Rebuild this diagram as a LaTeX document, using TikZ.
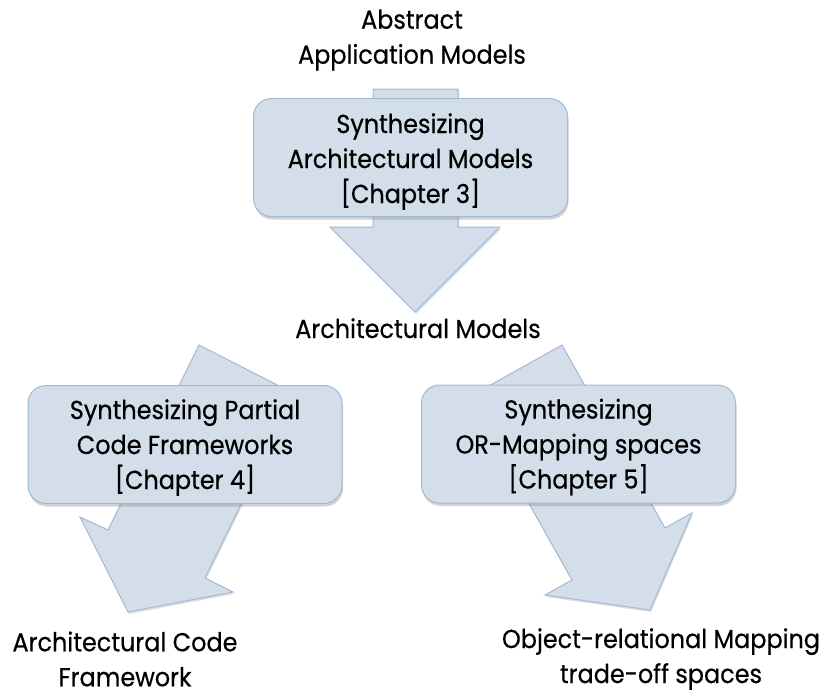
\documentclass[tikz,border=0pt]{standalone}
\usepackage{fontspec}
\setmainfont[FakeStretch=0.92,FakeBold=0.5]{Poppins}
\usetikzlibrary{shadows}
\definecolor{boxfill}{RGB}{211,222,234}
\definecolor{boxline}{RGB}{160,186,212}
\begin{document}
\begin{tikzpicture}[x=1pt,y=-1pt,
  txt/.style={align=center, inner sep=0pt, font=\fontsize{26}{35}\selectfont},
  boxst/.style={draw=boxline, fill=boxfill, rounded corners=18pt, line width=1pt,
    minimum width=314pt, minimum height=118pt, inner sep=0pt,
    drop shadow={opacity=0.35, shadow xshift=1pt, shadow yshift=-3pt}},
  arrowst/.style={draw=boxline, fill=boxfill, line width=1pt, line join=miter,
    drop shadow={opacity=0.25, shadow xshift=1pt, shadow yshift=-2pt}}]
\useasboundingbox (0,0) rectangle (830,696);
% block arrows
\draw[arrowst] (373,89) -- (458,89) -- (458,227) -- (500,227) -- (415,312) -- (330,227) -- (373,227) -- cycle;
\draw[arrowst] (199,345) -- (295,394) -- (205,578) -- (233,592) -- (128,612) -- (80,517) -- (108,530) -- cycle;
\draw[arrowst] (562,345) -- (665,528) -- (692,513) -- (650,610) -- (545,595) -- (572,580) -- (469,397) -- cycle;
% boxes
\node[boxst] (b3) at (410.5,157.5) {};
\node[boxst] (b4) at (185,444.5) {};
\node[boxst] (b5) at (578.5,444) {};
\node[txt, yshift=-4pt] (t3) at (b3.center) {Synthesizing\\Architectural Models\\{}[Chapter 3]};
\node[txt, yshift=-3pt] (t4) at (b4.center) {Synthesizing Partial\\Code Frameworks\\{}[Chapter 4]};
\node[txt, yshift=-3pt] (t5) at (b5.center) {Synthesizing\\OR-Mapping spaces\\{}[Chapter 5]};
% labels
\node[txt] (abs) at (412,40) {Abstract\\Application Models};
\node[txt, anchor=base] (am) at (418,338) {Architectural Models};
\node[txt] (acf) at (125,659) {Architectural Code\\Framework};
\node[txt] (orm) at (661,659) {Object-relational Mapping\\trade-off spaces};
\end{tikzpicture}
\end{document}
